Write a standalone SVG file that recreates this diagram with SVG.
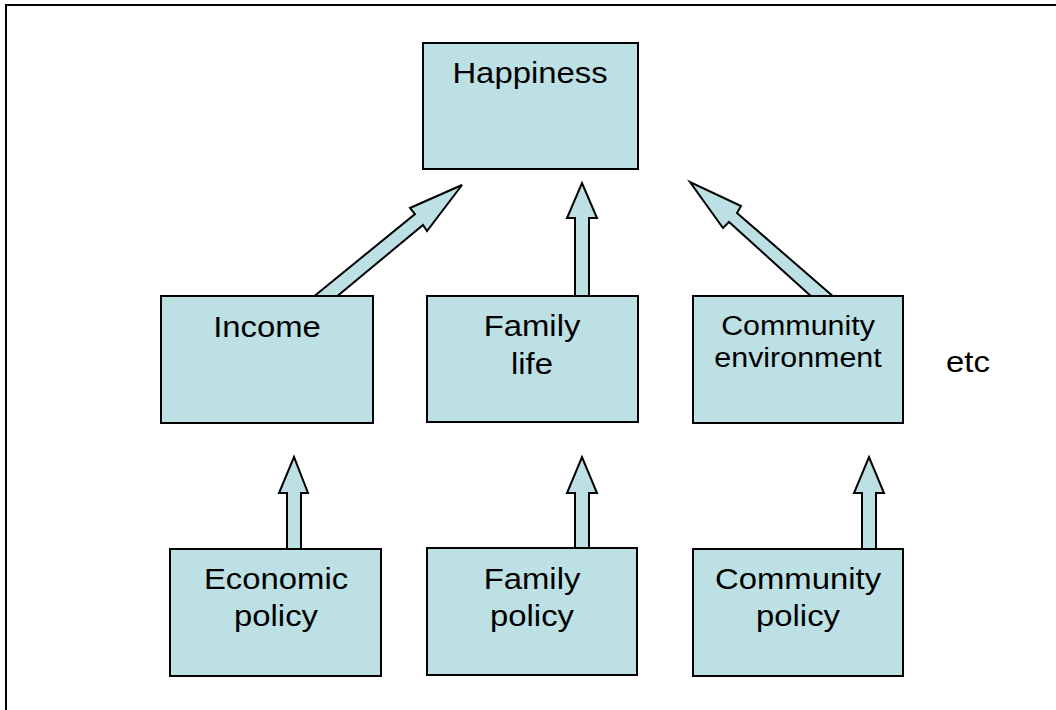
<svg xmlns="http://www.w3.org/2000/svg" width="1056" height="710" viewBox="0 0 1056 710">
<style>
.box{fill:#BCE0E4;stroke:#000;stroke-width:2}
.arr{fill:#BCE0E4;stroke:#000;stroke-width:2;stroke-linejoin:miter}
text{font-family:"Liberation Sans",Arial,sans-serif;font-size:29.6px;fill:#000;text-anchor:middle}
.sm{font-size:27.4px}
</style>
<rect x="0" y="0" width="1056" height="710" fill="#fff"/>
<rect x="6" y="5" width="1060" height="720" fill="none" stroke="#000" stroke-width="2"/>
<g id="connectors">
<polygon class="arr" points="312,298 415,214 410,208 462,185 427,231 423,225 335,298"/>
<polygon class="arr" points="575,298 575,218 567,218 582,183 597,218 589,218 589,298"/>
<polygon class="arr" points="813,298 729,222 723,228 690,182 741,206 737,213 835,298"/>
<polygon class="arr" points="287,551 287,493 279,493 294,457 308,493 301,493 301,551"/>
<polygon class="arr" points="575,550 575,493 567,493 582,457 597,493 589,493 589,550"/>
<polygon class="arr" points="862,551 862,493 854,493 869,457 884,493 876,493 876,551"/>
</g>
<g id="happiness"><rect class="box" x="423" y="43" width="215" height="126"/><text transform="translate(530,83) scale(1.11,1)">Happiness</text></g>
<g id="income"><rect class="box" x="161" y="296" width="212" height="127"/><text transform="translate(267,337) scale(1.11,1)">Income</text></g>
<g id="family-life"><rect class="box" x="427" y="296" width="211" height="126"/><text transform="translate(532,336) scale(1.11,1)">Family</text><text transform="translate(532,374) scale(1.11,1)">life</text></g>
<g id="community-environment"><rect class="box" x="693" y="296" width="210" height="127"/><text class="sm" transform="translate(798,335) scale(1.11,1)">Community</text><text class="sm" transform="translate(798,367) scale(1.11,1)">environment</text></g>
<g id="etc"><text transform="translate(968,372) scale(1.11,1)">etc</text></g>
<g id="economic-policy"><rect class="box" x="170" y="549" width="211" height="127"/><text transform="translate(276,589) scale(1.11,1)">Economic</text><text transform="translate(276,626) scale(1.11,1)">policy</text></g>
<g id="family-policy"><rect class="box" x="427" y="548" width="210" height="127"/><text transform="translate(532,589) scale(1.11,1)">Family</text><text transform="translate(532,626) scale(1.11,1)">policy</text></g>
<g id="community-policy"><rect class="box" x="693" y="549" width="210" height="127"/><text transform="translate(798,589) scale(1.11,1)">Community</text><text transform="translate(798,626) scale(1.11,1)">policy</text></g>
</svg>
